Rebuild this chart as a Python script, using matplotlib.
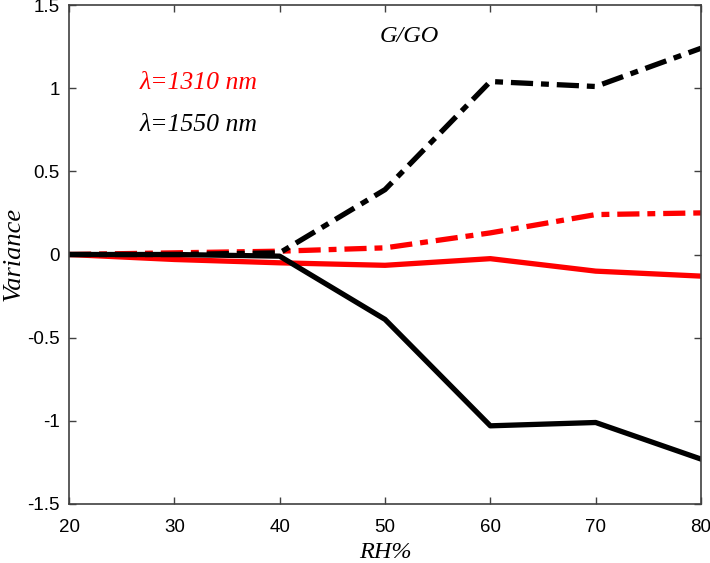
import numpy as np
import matplotlib.pyplot as plt

# ---- data ----
rh = [20, 30, 40, 50, 60, 70, 80]
black_up = [0.0, 0.0, 0.01, 0.39, 1.04, 1.01, 1.24]
black_down = [0.0, 0.0, -0.01, -0.39, -1.03, -1.01, -1.23]
red_up = [0.0, 0.01, 0.02, 0.04, 0.13, 0.24, 0.25]
red_down = [0.0, -0.03, -0.05, -0.065, -0.025, -0.10, -0.13]

xticks = [20, 30, 40, 50, 60, 70, 80]
yticks = [-1.5, -1, -0.5, 0, 0.5, 1, 1.5]
ytick_labels = ['-1.5', '-1', '-0.5', '0', '0.5', '1', '1.5']

plt.rcParams['font.family'] = ['Liberation Sans', 'DejaVu Sans']

fig = plt.figure(figsize=(7.1, 5.63), dpi=100)
ax = fig.add_axes([69 / 710, 1 - 504 / 563, 632 / 710, 499 / 563])

lw = 3.8
dd = (4.2, 1.5, 1.5, 1.5)
ax.plot(rh, red_down, color='#ff0000', lw=lw)
ax.plot(rh, red_up, color='#ff0000', lw=lw, dashes=dd)
ax.plot(rh, black_down, color='black', lw=lw)
ax.plot(rh, black_up, color='black', lw=lw, dashes=dd)

ax.set_xlim(20, 80)
ax.set_ylim(-1.5, 1.5)
ax.set_xticks(xticks)
ax.set_yticks(yticks)
ax.set_yticklabels(ytick_labels)
ax.tick_params(direction='in', top=True, right=True, length=5, width=1,
               labelsize=13.5, color='#404040')
ax.tick_params(axis='x', pad=10.5)
ax.tick_params(axis='y', pad=6.5)
for s in ax.spines.values():
    s.set_color('#404040')
    s.set_linewidth(1.2)

serif = ['Liberation Serif', 'DejaVu Serif']
ax.set_xlabel('RH%', family=serif, style='italic', fontsize=17.5, labelpad=4.5)
fig.text(3 / 710, 1 - 254 / 563, 'Variance', family=serif, style='italic',
         fontsize=19, rotation=90, ha='left', va='center')

ax.text(49.5, 1.31, 'G/GO', family=serif, style='italic', fontsize=17.5,
        ha='left', va='center')
ax.text(26.7, 1.03, 'λ=1310 nm', family=serif, style='italic', fontsize=18.5,
        color='#ff0000', ha='left', va='center')
ax.text(26.7, 0.78, 'λ=1550 nm', family=serif, style='italic', fontsize=18.5,
        color='black', ha='left', va='center')

fig.savefig('out.png', dpi=100)
